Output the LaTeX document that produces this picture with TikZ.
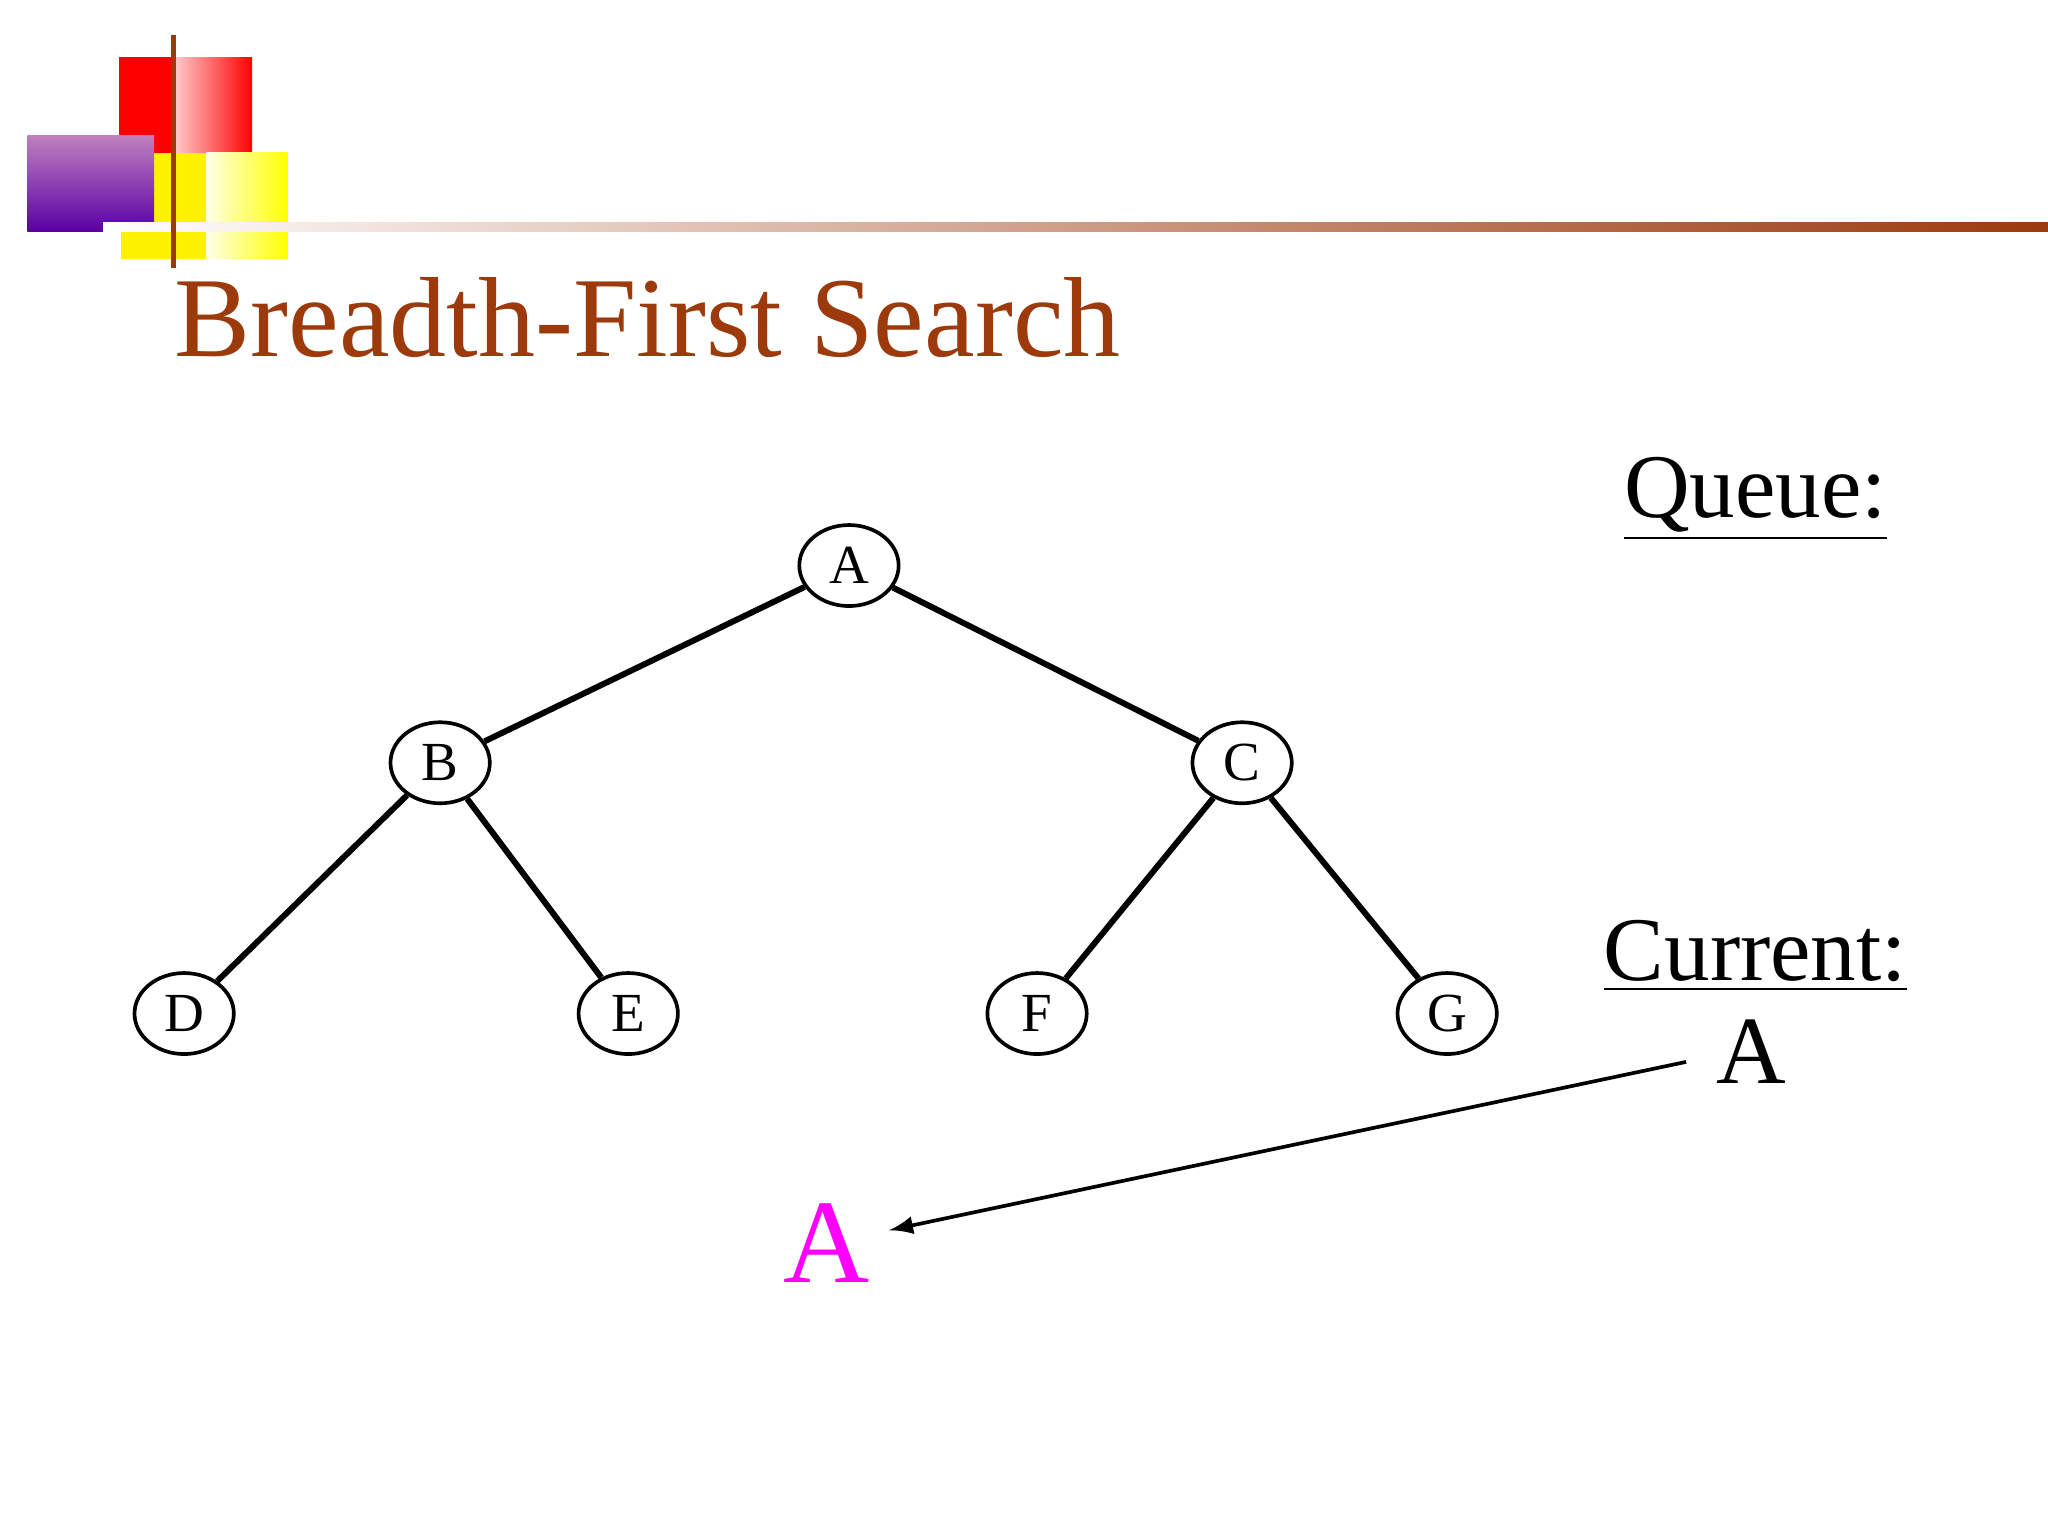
\documentclass[tikz,border=0pt]{standalone}
\usepackage{fontspec}
\usetikzlibrary{shapes.geometric}
\setmainfont{Liberation Serif}
\begin{document}
\begin{tikzpicture}[x=0.01cm,y=-0.01cm,
 nd/.style={draw,thick,ellipse,minimum width=0.76cm,minimum height=0.62cm,inner sep=0pt,font=\fontsize{12}{13}\selectfont},
 ed/.style={line width=1.3pt}]
\definecolor{brn}{HTML}{9C3A0C}
\definecolor{mag}{HTML}{FF00FF}
\useasboundingbox (0,0) rectangle (1568,1176);
\fill[white] (0,0) rectangle (1568,1176);
% decoration
\fill[red] (91,44) rectangle (133,117);
\shade[left color=red!20,right color=red] (133,44) rectangle (193,117);
\fill[yellow] (93,117) rectangle (160,198);
\shade[left color=yellow!10,right color=yellow] (158,117) rectangle (220,198);
\shade[bottom color=violet!70!blue,top color=violet!50] (21,104) rectangle (118,177);
\shade[left color=white,right color=brn] (79,170) rectangle (1568,177);
\fill[brn] (131,27) rectangle (135,205);
% title
\node[anchor=base west,text=brn,font=\fontsize{24.8}{29}\selectfont,inner sep=0pt] (title) at (133,273) {Breadth-First Search};
% tree
\node[nd] (A) at (650,433) {A};
\node[nd] (B) at (337,584) {B};
\node[nd] (C) at (951,584) {C};
\node[nd] (D) at (141,776) {D};
\node[nd] (E) at (481,776) {E};
\node[nd] (F) at (794,776) {F};
\node[nd] (G) at (1108,776) {G};
\draw[ed] (A) -- (B); \draw[ed] (A) -- (C);
\draw[ed] (B) -- (D); \draw[ed] (B) -- (E);
\draw[ed] (C) -- (F); \draw[ed] (C) -- (G);
% labels
\node[font=\fontsize{19.8}{23}\selectfont] (q) at (1344,382) {\underline{Queue:}};
\node[font=\fontsize{19.8}{23}\selectfont] (cur) at (1344,732) {\underline{Current:}};
\node[font=\fontsize{21}{24}\selectfont,inner sep=1pt] (ca) at (1341,805) {A};
\node[font=\fontsize{26}{30}\selectfont,text=mag,inner sep=4pt] (pa) at (633,952) {A};
\coordinate (s) at (1291,813);
\draw[-latex,thick] (s) -- (pa);
\end{tikzpicture}
\end{document}
